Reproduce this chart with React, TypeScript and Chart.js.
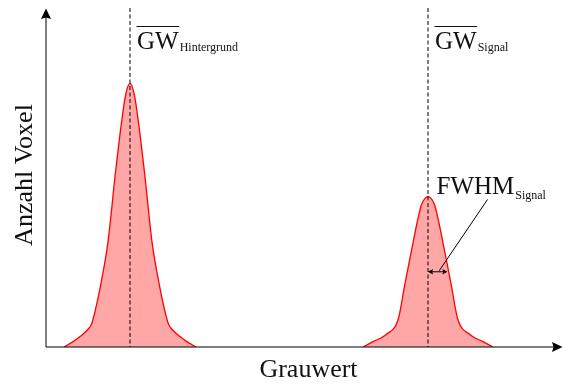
import React, { useEffect, useRef } from "react";
import { Chart, registerables } from "chart.js";

Chart.register(...registerables);

// Axis ranges
const GRAUWERT_MAX = 255;
const VOXEL_MAX = 100;

// Histogram of the background region
const hintergrundGrauwert = [9, 13.6, 17, 21.5, 22.4, 23.2, 25.6, 27, 31, 34.6, 37.6, 39.8, 42, 44.2, 46.4, 49.4, 53, 57, 58.4, 60.8, 61.6, 62.5, 67, 70.4, 75];
const hintergrundVoxel = [0, 1.6, 3.1, 5.6, 6.4, 7.6, 13.5, 17.5, 31.4, 51.3, 66.3, 75.2, 78.7, 75.2, 66.3, 51.3, 31.4, 17.5, 13.5, 7.6, 6.4, 5.6, 3.1, 1.6, 0];

// Histogram of the signal region
const signalGrauwert = [158.5, 163.5, 169.75, 176.25, 179.35, 182.65, 186, 187.7, 191, 194.3, 196, 199.35, 202.65, 205.75, 212.25, 218.5, 223.5];
const signalVoxel = [0, 1.6, 3.6, 8.6, 18.5, 28.5, 38.4, 42.4, 44.9, 42.4, 38.4, 28.5, 18.5, 8.6, 3.6, 1.6, 0];

// Mean grey values and half width at half maximum of the signal peak
const mittelHintergrund = 42;
const mittelSignal = 191;
const signalMaximum = 44.9;
const signalHalbeBreite = 9.7;

const SERIF = '"Liberation Serif", "Times New Roman", serif';

function toPoints(xs: number[], ys: number[]) {
  return xs.map((x, i) => ({ x, y: ys[i] }));
}

function arrowHead(ctx: CanvasRenderingContext2D, tipX: number, tipY: number, dx: number, dy: number, len: number, half: number) {
  const bx = tipX - dx * len;
  const by = tipY - dy * len;
  ctx.beginPath();
  ctx.moveTo(tipX, tipY);
  ctx.lineTo(bx - dy * half, by + dx * half);
  ctx.lineTo(bx + dx * len * 0.15, by + dy * len * 0.15);
  ctx.lineTo(bx + dy * half, by - dx * half);
  ctx.closePath();
  ctx.fill();
}

const annotations = {
  id: "annotations",
  afterDatasetsDraw(chart: any) {
    const { ctx, chartArea, scales } = chart;
    const xs = scales.x;
    const ys = scales.y;
    const left = chartArea.left;
    const bottom = chartArea.bottom;
    ctx.save();

    // dashed mean lines
    ctx.strokeStyle = "#000";
    ctx.lineWidth = 1;
    ctx.setLineDash([4, 2.5]);
    for (const m of [mittelHintergrund, mittelSignal]) {
      const px = xs.getPixelForValue(m);
      ctx.beginPath();
      ctx.moveTo(px, 8);
      ctx.lineTo(px, bottom);
      ctx.stroke();
    }
    ctx.setLineDash([]);

    // axes with arrow heads
    ctx.strokeStyle = "#000";
    ctx.fillStyle = "#000";
    ctx.lineWidth = 1;
    ctx.beginPath();
    ctx.moveTo(left, bottom);
    ctx.lineTo(left, 16);
    ctx.moveTo(left, bottom);
    ctx.lineTo(554, bottom);
    ctx.stroke();
    arrowHead(ctx, left, 8.5, 0, -1, 10.5, 5);
    arrowHead(ctx, 562.5, bottom, 1, 0, 10.5, 5);

    // axis titles
    ctx.fillStyle = "#111";
    ctx.font = `26px ${SERIF}`;
    ctx.textBaseline = "alphabetic";
    ctx.textAlign = "center";
    ctx.fillText("Grauwert", 308.5, 377);
    ctx.save();
    ctx.translate(31.5, 175);
    ctx.rotate(-Math.PI / 2);
    ctx.fillText("Anzahl Voxel", 0, 0);
    ctx.restore();

    // mean labels with overline and subscript
    ctx.textAlign = "left";
    const gwLabel = (m: number, sub: string) => {
      const x = xs.getPixelForValue(m) + 7;
      const base = 48.5;
      ctx.font = `25px ${SERIF}`;
      ctx.fillText("GW", x, base);
      const w = ctx.measureText("GW").width;
      ctx.strokeStyle = "#111";
      ctx.lineWidth = 1.2;
      ctx.beginPath();
      ctx.moveTo(x - 0.5, 26.5);
      ctx.lineTo(x + w + 0.5, 26.5);
      ctx.stroke();
      ctx.font = `12px ${SERIF}`;
      ctx.fillText(sub, x + w + 1, base + 2.5);
    };
    gwLabel(mittelHintergrund, "Hintergrund");
    gwLabel(mittelSignal, "Signal");

    // FWHM marker at half maximum of the signal peak
    const yHalf = ys.getPixelForValue(signalMaximum / 2);
    const ax1 = xs.getPixelForValue(mittelSignal);
    const ax2 = xs.getPixelForValue(mittelSignal + signalHalbeBreite);
    ctx.strokeStyle = "#000";
    ctx.fillStyle = "#000";
    ctx.lineWidth = 1;
    ctx.beginPath();
    ctx.moveTo(ax1 + 3, yHalf);
    ctx.lineTo(ax2 - 3, yHalf);
    ctx.stroke();
    arrowHead(ctx, ax1, yHalf, -1, 0, 5, 2.8);
    arrowHead(ctx, ax2, yHalf, 1, 0, 5, 2.8);

    const fx = xs.getPixelForValue(mittelSignal) + 8.5;
    ctx.fillStyle = "#111";
    ctx.font = `25px ${SERIF}`;
    ctx.fillText("FWHM", fx, 194);
    const fw = ctx.measureText("FWHM").width;
    ctx.font = `12px ${SERIF}`;
    ctx.fillText("Signal", fx + fw + 1, 198.5);

    ctx.strokeStyle = "#000";
    ctx.lineWidth = 1;
    ctx.beginPath();
    ctx.moveTo(487.5, 199.5);
    ctx.lineTo((ax1 + ax2) / 2 + 1.5, yHalf - 1);
    ctx.stroke();

    ctx.restore();
  },
};

export default function App() {
  const canvasRef = useRef<HTMLCanvasElement | null>(null);

  useEffect(() => {
    if (!canvasRef.current) return;
    const peakStyle = {
      fill: "origin",
      backgroundColor: "rgba(255, 0, 0, 0.35)",
      borderColor: "#ff0000",
      borderWidth: 1.3,
      pointRadius: 0,
      cubicInterpolationMode: "monotone" as const,
    };
    const chart = new Chart(canvasRef.current, {
      type: "line",
      data: {
        datasets: [
          { label: "Hintergrund", data: toPoints(hintergrundGrauwert, hintergrundVoxel), ...peakStyle },
          { label: "Signal", data: toPoints(signalGrauwert, signalVoxel), ...peakStyle },
        ],
      },
      options: {
        animation: false,
        responsive: false,
        devicePixelRatio: 1,
        layout: { padding: { left: 46, right: 7, top: 12, bottom: 37 } },
        scales: {
          x: { type: "linear", min: 0, max: GRAUWERT_MAX, display: false },
          y: { type: "linear", min: 0, max: VOXEL_MAX, display: false },
        },
        plugins: {
          legend: { display: false },
          tooltip: { enabled: false },
        },
      },
      plugins: [annotations],
    });
    return () => chart.destroy();
  }, []);

  return (
    <div style={{ position: "fixed", left: 0, top: 0, width: 563, height: 384, background: "#fff" }}>
      <canvas ref={canvasRef} width={563} height={384} style={{ width: 563, height: 384, display: "block" }} />
    </div>
  );
}
